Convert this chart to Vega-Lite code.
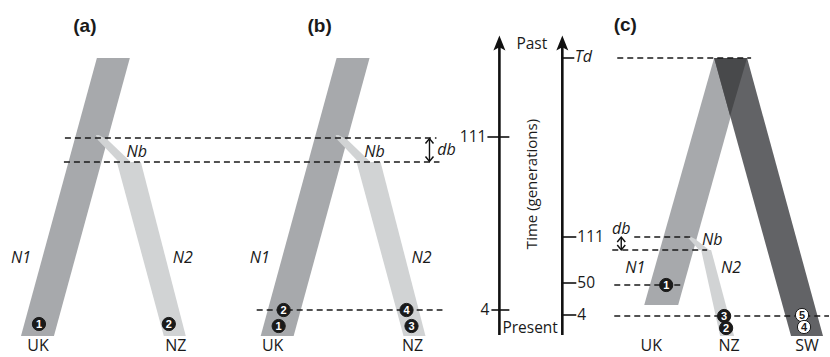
{
  "$schema": "https://vega.github.io/schema/vega-lite/v6.json",
  "width": 830,
  "height": 357,
  "autosize": {"type": "fit", "contains": "padding"},
  "padding": 0,
  "background": "white",
  "config": {"view": {"stroke": null}},
  "datasets": {
    "bands": [
      {"id": "aN1", "tone": "mid", "y": 58, "xl": 97, "xr": 130},
      {"id": "aN1", "tone": "mid", "y": 336, "xl": 21, "xr": 54},
      {"id": "aN2", "tone": "light", "y": 162, "xl": 117, "xr": 141},
      {"id": "aN2", "tone": "light", "y": 336, "xl": 164, "xr": 186},
      {"id": "bN1", "tone": "mid", "y": 58, "xl": 337, "xr": 370},
      {"id": "bN1", "tone": "mid", "y": 336, "xl": 261, "xr": 294},
      {"id": "bN2", "tone": "light", "y": 162, "xl": 357, "xr": 381},
      {"id": "bN2", "tone": "light", "y": 336, "xl": 404, "xr": 426},
      {"id": "cUK", "tone": "mid", "y": 58, "xl": 715, "xr": 748},
      {"id": "cUK", "tone": "mid", "y": 305, "xl": 645, "xr": 679},
      {"id": "cSW", "tone": "dark", "y": 58, "xl": 715, "xr": 748},
      {"id": "cSW", "tone": "dark", "y": 336, "xl": 792, "xr": 824},
      {"id": "cNZ", "tone": "light", "y": 250, "xl": 702, "xr": 712},
      {"id": "cNZ", "tone": "light", "y": 336, "xl": 721, "xr": 735}
    ],
    "bridges": [
      {"id": "aNb", "tone": "light", "y": 135, "xl": 96, "xr": 99},
      {"id": "aNb", "tone": "light", "y": 140, "xl": 98, "xr": 108},
      {"id": "aNb", "tone": "light", "y": 162, "xl": 119, "xr": 131},
      {"id": "bNb", "tone": "light", "y": 135, "xl": 336, "xr": 339},
      {"id": "bNb", "tone": "light", "y": 140, "xl": 338, "xr": 348},
      {"id": "bNb", "tone": "light", "y": 162, "xl": 359, "xr": 371},
      {"id": "cNb", "tone": "light", "y": 236, "xl": 688, "xr": 690},
      {"id": "cNb", "tone": "light", "y": 239, "xl": 690, "xr": 696},
      {"id": "cNb", "tone": "light", "y": 250, "xl": 700, "xr": 710},
      {"id": "cOv", "tone": "darkest", "y": 58, "xl": 715, "xr": 748},
      {"id": "cOv", "tone": "darkest", "y": 116, "xl": 731, "xr": 731}
    ],
    "dashes": [
      {"y": 138, "x": 65, "x2": 437},
      {"y": 162, "x": 64, "x2": 440},
      {"y": 310, "x": 257, "x2": 443},
      {"y": 58, "x": 618, "x2": 752},
      {"y": 237, "x": 635, "x2": 692},
      {"y": 250, "x": 613, "x2": 708},
      {"y": 285, "x": 615, "x2": 685},
      {"y": 316, "x": 615, "x2": 830}
    ],
    "shafts": [
      {"x": 500, "y": 44, "y2": 335},
      {"x": 563, "y": 44, "y2": 335}
    ],
    "ticks": [
      {"x": 488, "x2": 510, "y": 137},
      {"x": 492, "x2": 510, "y": 310},
      {"x": 562, "x2": 575, "y": 58},
      {"x": 562, "x2": 577, "y": 237},
      {"x": 562, "x2": 577, "y": 283},
      {"x": 562, "x2": 577, "y": 315}
    ],
    "heads": [
      {"x": 500, "y": 43},
      {"x": 563, "y": 43}
    ],
    "dbl": [
      {"x": 430, "y": 140, "y2": 160},
      {"x": 622, "y": 238, "y2": 249}
    ],
    "chev": [
      {"x": 430, "y": 141, "dir": "up"},
      {"x": 430, "y": 159, "dir": "down"},
      {"x": 622, "y": 239.5, "dir": "up"},
      {"x": 622, "y": 247.5, "dir": "down"}
    ],
    "circles": [
      {"x": 39, "y": 324, "num": "1", "style": "black"},
      {"x": 169, "y": 324, "num": "2", "style": "black"},
      {"x": 284, "y": 310, "num": "2", "style": "black"},
      {"x": 279, "y": 326, "num": "1", "style": "black"},
      {"x": 407, "y": 310, "num": "4", "style": "black"},
      {"x": 412, "y": 326, "num": "3", "style": "black"},
      {"x": 667, "y": 285, "num": "1", "style": "black"},
      {"x": 725, "y": 316, "num": "3", "style": "black"},
      {"x": 727, "y": 328, "num": "2", "style": "black"},
      {"x": 803, "y": 315, "num": "5", "style": "white"},
      {"x": 805, "y": 327, "num": "4", "style": "white"}
    ],
    "labels": [
      {"x": 85, "y": 26, "text": "(a)", "group": "title"},
      {"x": 320, "y": 26, "text": "(b)", "group": "title"},
      {"x": 626, "y": 25, "text": "(c)", "group": "title"},
      {"x": 137, "y": 152, "text": "Nb", "group": "ital"},
      {"x": 375, "y": 152, "text": "Nb", "group": "ital"},
      {"x": 713, "y": 240, "text": "Nb", "group": "ital"},
      {"x": 21, "y": 258, "text": "N1", "group": "ital"},
      {"x": 260, "y": 258, "text": "N1", "group": "ital"},
      {"x": 636, "y": 268, "text": "N1", "group": "ital"},
      {"x": 183, "y": 258, "text": "N2", "group": "ital"},
      {"x": 422, "y": 258, "text": "N2", "group": "ital"},
      {"x": 732, "y": 268, "text": "N2", "group": "ital"},
      {"x": 447, "y": 150, "text": "db", "group": "ital"},
      {"x": 622, "y": 229, "text": "db", "group": "ital"},
      {"x": 584, "y": 57, "text": "Td", "group": "ital"},
      {"x": 38, "y": 346, "text": "UK", "group": "plain"},
      {"x": 176, "y": 346, "text": "NZ", "group": "plain"},
      {"x": 273, "y": 346, "text": "UK", "group": "plain"},
      {"x": 413, "y": 346, "text": "NZ", "group": "plain"},
      {"x": 652, "y": 346, "text": "UK", "group": "plain"},
      {"x": 730, "y": 346, "text": "NZ", "group": "plain"},
      {"x": 808, "y": 346, "text": "SW", "group": "plain"},
      {"x": 517, "y": 44, "text": "Past", "group": "left"},
      {"x": 503, "y": 328, "text": "Present", "group": "left"},
      {"x": 578, "y": 237, "text": "111", "group": "left"},
      {"x": 578, "y": 283, "text": "50", "group": "left"},
      {"x": 578, "y": 315, "text": "4", "group": "left"},
      {"x": 487, "y": 137, "text": "111", "group": "right"},
      {"x": 490, "y": 310, "text": "4", "group": "right"},
      {"x": 533, "y": 184, "text": "Time (generations)", "group": "rot"}
    ]
  },
  "layer": [
    {
      "data": {"name": "bands"},
      "mark": {"type": "area", "orient": "horizontal"},
      "encoding": {
        "y": {"field": "y", "type": "quantitative", "scale": {"domain": [0, 357], "reverse": true, "nice": false, "zero": false}, "axis": null},
        "x": {"field": "xl", "type": "quantitative", "stack": null, "scale": {"domain": [0, 830], "nice": false, "zero": false}, "axis": null},
        "x2": {"field": "xr"},
        "detail": {"field": "id"},
        "color": {"field": "tone", "type": "nominal", "scale": {"domain": ["mid", "light", "dark", "darkest"], "range": ["#a7a9ac", "#d1d3d4", "#626366", "#48494b"]}, "legend": null}
      }
    },
    {
      "data": {"name": "bridges"},
      "mark": {"type": "area", "orient": "horizontal"},
      "encoding": {
        "y": {"field": "y", "type": "quantitative", "scale": {"domain": [0, 357], "reverse": true, "nice": false, "zero": false}, "axis": null},
        "x": {"field": "xl", "type": "quantitative", "stack": null, "scale": {"domain": [0, 830], "nice": false, "zero": false}, "axis": null},
        "x2": {"field": "xr"},
        "detail": {"field": "id"},
        "color": {"field": "tone", "type": "nominal", "scale": {"domain": ["mid", "light", "dark", "darkest"], "range": ["#a7a9ac", "#d1d3d4", "#626366", "#48494b"]}, "legend": null}
      }
    },
    {
      "data": {"name": "dashes"},
      "mark": {"type": "rule", "color": "#1a1a1a", "strokeWidth": 1.4, "strokeDash": [6, 4]},
      "encoding": {
        "y": {"field": "y", "type": "quantitative", "scale": {"domain": [0, 357], "reverse": true, "nice": false, "zero": false}, "axis": null},
        "x": {"field": "x", "type": "quantitative", "scale": {"domain": [0, 830], "nice": false, "zero": false}, "axis": null},
        "x2": {"field": "x2"}
      }
    },
    {
      "data": {"name": "shafts"},
      "mark": {"type": "rule", "color": "#111111", "strokeWidth": 2.6},
      "encoding": {
        "y": {"field": "y", "type": "quantitative", "scale": {"domain": [0, 357], "reverse": true, "nice": false, "zero": false}, "axis": null},
        "y2": {"field": "y2"},
        "x": {"field": "x", "type": "quantitative", "scale": {"domain": [0, 830], "nice": false, "zero": false}, "axis": null}
      }
    },
    {
      "data": {"name": "ticks"},
      "mark": {"type": "rule", "color": "#111111", "strokeWidth": 1.6},
      "encoding": {
        "y": {"field": "y", "type": "quantitative", "scale": {"domain": [0, 357], "reverse": true, "nice": false, "zero": false}, "axis": null},
        "x": {"field": "x", "type": "quantitative", "scale": {"domain": [0, 830], "nice": false, "zero": false}, "axis": null},
        "x2": {"field": "x2"}
      }
    },
    {
      "data": {"name": "dbl"},
      "mark": {"type": "rule", "color": "#111111", "strokeWidth": 1.4},
      "encoding": {
        "y": {"field": "y", "type": "quantitative", "scale": {"domain": [0, 357], "reverse": true, "nice": false, "zero": false}, "axis": null},
        "y2": {"field": "y2"},
        "x": {"field": "x", "type": "quantitative", "scale": {"domain": [0, 830], "nice": false, "zero": false}, "axis": null}
      }
    },
    {
      "data": {"name": "heads"},
      "mark": {"type": "point", "filled": true, "color": "#111111", "opacity": 1, "size": 225, "shape": "M0,-1L0.8,1L0,0.55L-0.8,1Z"},
      "encoding": {
        "y": {"field": "y", "type": "quantitative", "scale": {"domain": [0, 357], "reverse": true, "nice": false, "zero": false}, "axis": null},
        "x": {"field": "x", "type": "quantitative", "scale": {"domain": [0, 830], "nice": false, "zero": false}, "axis": null}
      }
    },
    {
      "data": {"name": "chev"},
      "mark": {"type": "point", "filled": false, "color": "#111111", "opacity": 1, "size": 64, "strokeWidth": 1.5},
      "encoding": {
        "y": {"field": "y", "type": "quantitative", "scale": {"domain": [0, 357], "reverse": true, "nice": false, "zero": false}, "axis": null},
        "x": {"field": "x", "type": "quantitative", "scale": {"domain": [0, 830], "nice": false, "zero": false}, "axis": null},
        "shape": {"field": "dir", "type": "nominal", "scale": {"domain": ["up", "down"], "range": ["M-1,0.6L0,-0.6L1,0.6", "M-1,-0.6L0,0.6L1,-0.6"]}, "legend": null}
      }
    },
    {
      "data": {"name": "circles"},
      "mark": {"type": "point", "shape": "circle", "size": 175, "stroke": "#1a1a1a", "strokeWidth": 1, "opacity": 1},
      "encoding": {
        "y": {"field": "y", "type": "quantitative", "scale": {"domain": [0, 357], "reverse": true, "nice": false, "zero": false}, "axis": null},
        "x": {"field": "x", "type": "quantitative", "scale": {"domain": [0, 830], "nice": false, "zero": false}, "axis": null},
        "fill": {"field": "style", "type": "nominal", "scale": {"domain": ["black", "white"], "range": ["#1a1a1a", "#ffffff"]}, "legend": null}
      }
    },
    {
      "data": {"name": "circles"},
      "transform": [{"filter": "datum.style === 'black'"}],
      "mark": {"type": "text", "font": "Liberation Sans", "fontWeight": "bold", "fontSize": 11, "color": "#ffffff", "baseline": "middle", "align": "center", "dy": 0.5},
      "encoding": {
        "y": {"field": "y", "type": "quantitative", "scale": {"domain": [0, 357], "reverse": true, "nice": false, "zero": false}, "axis": null},
        "x": {"field": "x", "type": "quantitative", "scale": {"domain": [0, 830], "nice": false, "zero": false}, "axis": null},
        "text": {"field": "num"}
      }
    },
    {
      "data": {"name": "circles"},
      "transform": [{"filter": "datum.style === 'white'"}],
      "mark": {"type": "text", "font": "Liberation Sans", "fontWeight": "bold", "fontSize": 11, "color": "#1a1a1a", "baseline": "middle", "align": "center", "dy": 0.5},
      "encoding": {
        "y": {"field": "y", "type": "quantitative", "scale": {"domain": [0, 357], "reverse": true, "nice": false, "zero": false}, "axis": null},
        "x": {"field": "x", "type": "quantitative", "scale": {"domain": [0, 830], "nice": false, "zero": false}, "axis": null},
        "text": {"field": "num"}
      }
    },
    {
      "data": {"name": "labels"},
      "transform": [{"filter": "datum.group === 'title'"}],
      "mark": {"type": "text", "font": "Liberation Sans", "fontWeight": "bold", "fontSize": 19, "color": "#1a1a1a", "baseline": "middle", "align": "center"},
      "encoding": {
        "y": {"field": "y", "type": "quantitative", "scale": {"domain": [0, 357], "reverse": true, "nice": false, "zero": false}, "axis": null},
        "x": {"field": "x", "type": "quantitative", "scale": {"domain": [0, 830], "nice": false, "zero": false}, "axis": null},
        "text": {"field": "text"}
      }
    },
    {
      "data": {"name": "labels"},
      "transform": [{"filter": "datum.group === 'ital'"}],
      "mark": {"type": "text", "font": "Open Sans", "fontStyle": "italic", "fontSize": 16, "color": "#1a1a1a", "baseline": "middle", "align": "center"},
      "encoding": {
        "y": {"field": "y", "type": "quantitative", "scale": {"domain": [0, 357], "reverse": true, "nice": false, "zero": false}, "axis": null},
        "x": {"field": "x", "type": "quantitative", "scale": {"domain": [0, 830], "nice": false, "zero": false}, "axis": null},
        "text": {"field": "text"}
      }
    },
    {
      "data": {"name": "labels"},
      "transform": [{"filter": "datum.group === 'plain'"}],
      "mark": {"type": "text", "font": "Open Sans", "fontSize": 16, "color": "#1a1a1a", "baseline": "middle", "align": "center"},
      "encoding": {
        "y": {"field": "y", "type": "quantitative", "scale": {"domain": [0, 357], "reverse": true, "nice": false, "zero": false}, "axis": null},
        "x": {"field": "x", "type": "quantitative", "scale": {"domain": [0, 830], "nice": false, "zero": false}, "axis": null},
        "text": {"field": "text"}
      }
    },
    {
      "data": {"name": "labels"},
      "transform": [{"filter": "datum.group === 'left'"}],
      "mark": {"type": "text", "font": "Open Sans", "fontSize": 15.5, "color": "#1a1a1a", "baseline": "middle", "align": "left"},
      "encoding": {
        "y": {"field": "y", "type": "quantitative", "scale": {"domain": [0, 357], "reverse": true, "nice": false, "zero": false}, "axis": null},
        "x": {"field": "x", "type": "quantitative", "scale": {"domain": [0, 830], "nice": false, "zero": false}, "axis": null},
        "text": {"field": "text"}
      }
    },
    {
      "data": {"name": "labels"},
      "transform": [{"filter": "datum.group === 'right'"}],
      "mark": {"type": "text", "font": "Open Sans", "fontSize": 15.5, "color": "#1a1a1a", "baseline": "middle", "align": "right"},
      "encoding": {
        "y": {"field": "y", "type": "quantitative", "scale": {"domain": [0, 357], "reverse": true, "nice": false, "zero": false}, "axis": null},
        "x": {"field": "x", "type": "quantitative", "scale": {"domain": [0, 830], "nice": false, "zero": false}, "axis": null},
        "text": {"field": "text"}
      }
    },
    {
      "data": {"name": "labels"},
      "transform": [{"filter": "datum.group === 'rot'"}],
      "mark": {"type": "text", "font": "Open Sans", "fontSize": 15, "color": "#1a1a1a", "baseline": "middle", "align": "center", "angle": 270},
      "encoding": {
        "y": {"field": "y", "type": "quantitative", "scale": {"domain": [0, 357], "reverse": true, "nice": false, "zero": false}, "axis": null},
        "x": {"field": "x", "type": "quantitative", "scale": {"domain": [0, 830], "nice": false, "zero": false}, "axis": null},
        "text": {"field": "text"}
      }
    }
  ]
}
